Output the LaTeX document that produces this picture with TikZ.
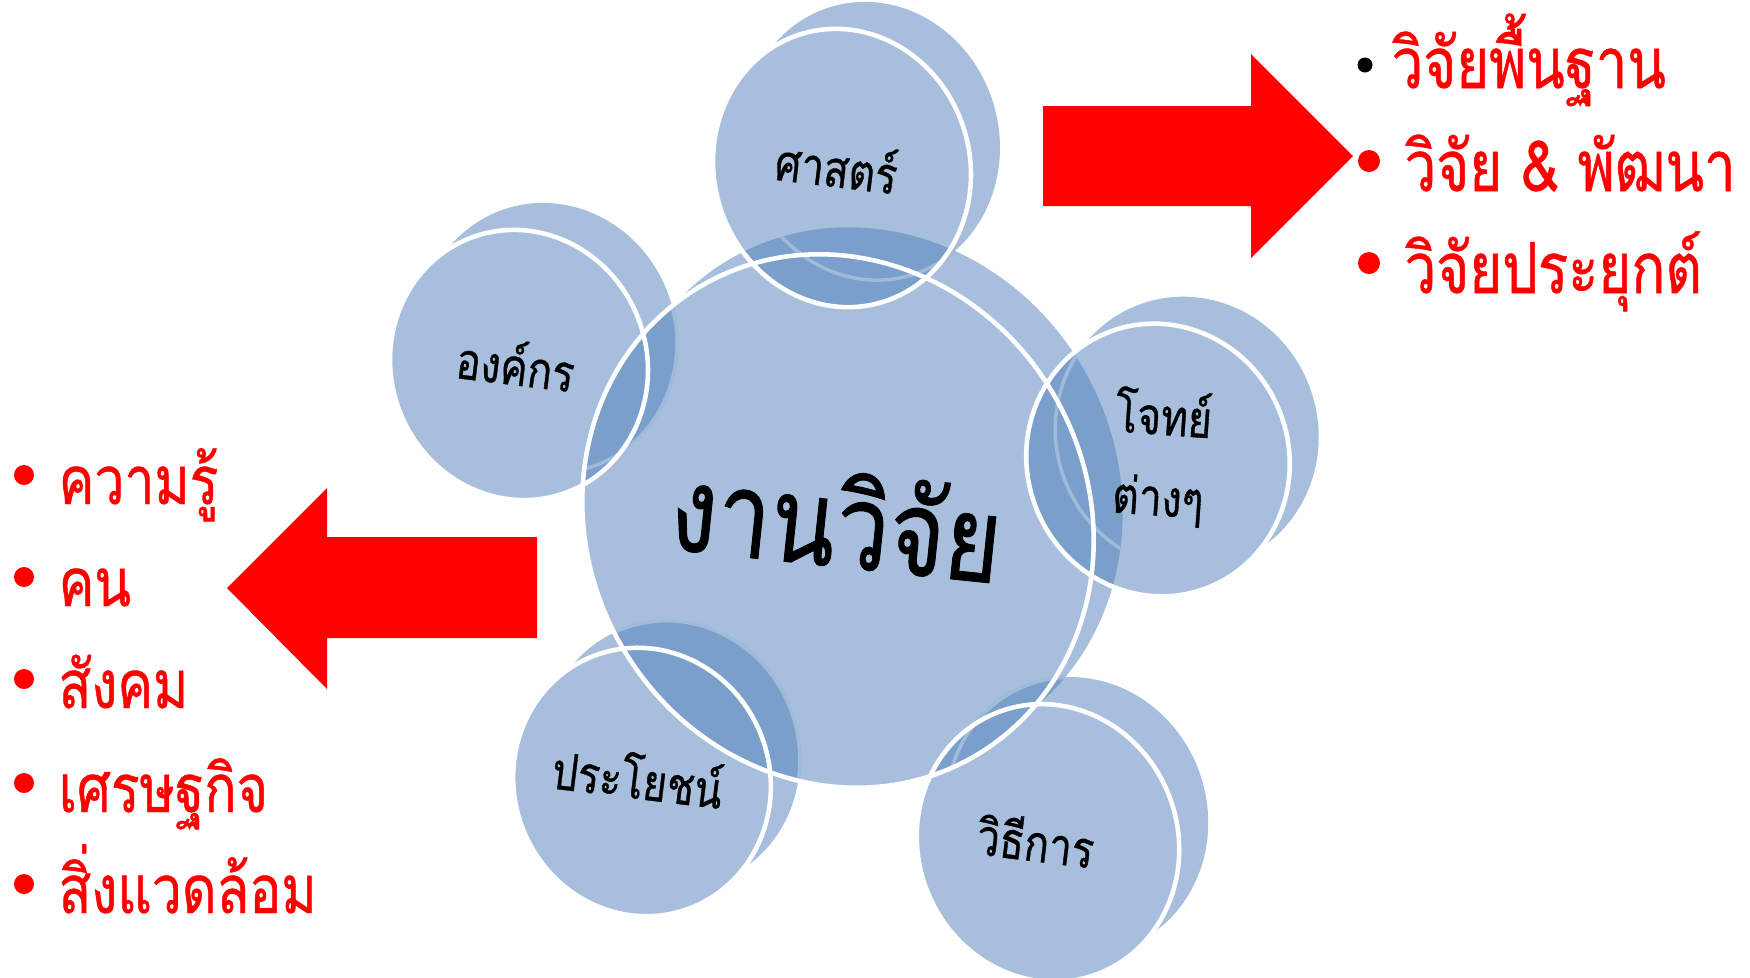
\documentclass[tikz,border=0pt]{standalone}
\usepackage{fontspec}
\newfontfamily\thaifont[Script=Thai,FakeStretch=0.8,FakeBold=0.7]{Loma}
\usetikzlibrary{positioning}
\definecolor{discblue}{RGB}{167,191,221}
\definecolor{overlapblue}{RGB}{122,159,203}
\definecolor{edgeblue}{RGB}{160,186,218}
\definecolor{listred}{RGB}{255,0,0}

\begin{document}
\begin{tikzpicture}[x=0.01cm,y=0.01cm,
                    rim/.style={draw=white,line width=1.3pt},
                    word/.style={font=\thaifont\fontsize{14.5}{23}\selectfont,rotate=-7,inner sep=0pt,align=center},
                    item/.style={font=\thaifont\fontsize{19}{22}\selectfont,text=listred,anchor=base west,inner sep=0pt},
                    dot/.style={circle,fill=listred,inner sep=0pt,minimum size=0.2cm}]
  \useasboundingbox (0,0) rectangle (1750,-978);

  % hub: x/y/x radius/y radius/rotation
  \def\hub{(838,-521) ellipse [x radius=250, y radius=272, rotate=30]
           (867,-494) ellipse [x radius=250, y radius=272, rotate=30]}

  % back faces, then front faces
  \foreach \cx/\cy/\rx/\ry/\r in {838/-521/250/272/30, 842/-168/128/140/16, 519/-365/128/136/20,
                                  1158/-460/131/137/20, 642/-782/128/135/20, 1048/-843/130/140/20}
    \fill[discblue] (\cx+29,\cy+27) ellipse [x radius=\rx, y radius=\ry, rotate=\r]
                    (\cx,\cy) ellipse [x radius=\rx, y radius=\ry, rotate=\r];

  % overlaps with the hub
  \foreach \cx/\cy/\rx/\ry/\r in {842/-168/128/140/16, 519/-365/128/136/20,
                                  1158/-460/131/137/20, 642/-782/128/135/20, 1048/-843/130/140/20}
  {
    \begin{scope}
      \clip \hub;
      \fill[overlapblue] (\cx+29,\cy+27) ellipse [x radius=\rx, y radius=\ry, rotate=\r]
                         (\cx,\cy) ellipse [x radius=\rx, y radius=\ry, rotate=\r];
      \draw[edgeblue,line width=1pt] (\cx+29,\cy+27) ellipse [x radius=\rx, y radius=\ry, rotate=\r];
    \end{scope}
  }

  % white rims
  \foreach \cx/\cy/\rx/\ry/\r in {838/-521/250/272/30, 842/-168/128/140/16, 519/-365/128/136/20,
                                  1158/-460/131/137/20, 642/-782/128/135/20, 1048/-843/130/140/20}
    \draw[rim] (\cx,\cy) ellipse [x radius=\rx, y radius=\ry, rotate=\r];

  \node[word,font=\thaifont\fontsize{34}{38}\selectfont,rotate=1] (hub) at (837,-519) {งานวิจัย};
  \node[word] (sat) at (837,-165) {ศาสตร์};
  \node[word] (org) at (516,-363) {องค์กร};
  \node[word,rotate=3] (prob) at (1161,-457) {โจทย์\\ต่างๆ};
  \node[word] (use) at (638,-776) {ประโยชน์};
  \node[word] (meth) at (1036,-840) {วิธีการ};

  % arrows
  \fill[listred] (1043,-106) -- (1251,-106) -- (1251,-54) -- (1353,-156)
                 -- (1251,-258) -- (1251,-206) -- (1043,-206) -- cycle;
  \fill[listred] (537,-537) -- (327,-537) -- (327,-488) -- (227,-588)
                 -- (327,-689) -- (327,-638) -- (537,-638) -- cycle;

  % right list
  \node[dot,fill=black,minimum size=0.15cm] (r1) at (1365,-65) {};
  \node[dot,minimum size=0.22cm] (r2) at (1369,-161) {};
  \node[dot,minimum size=0.22cm] (r3) at (1369,-263) {};
  \node[item,font=\thaifont\fontsize{20}{24}\selectfont] (t1) at (1391,-88) {วิจัยพื้นฐาน};
  \node[item,font=\thaifont\fontsize{20}{24}\selectfont] (t2) at (1404,-191) {วิจัย \& พัฒนา};
  \node[item,font=\thaifont\fontsize{20}{24}\selectfont] (t3) at (1404,-293) {วิจัยประยุกต์};

  % left list
  \foreach \y/\txt [count=\i] in {475/ความรู้, 577/คน, 679/สังคม, 783/เศรษฐกิจ, 884/สิ่งแวดล้อม}
  {
    \node[dot] (l\i) at (24,-\y) {};
    \node[item] (k\i) at (58,-\y-29) {\txt};
  }
\end{tikzpicture}
\end{document}
